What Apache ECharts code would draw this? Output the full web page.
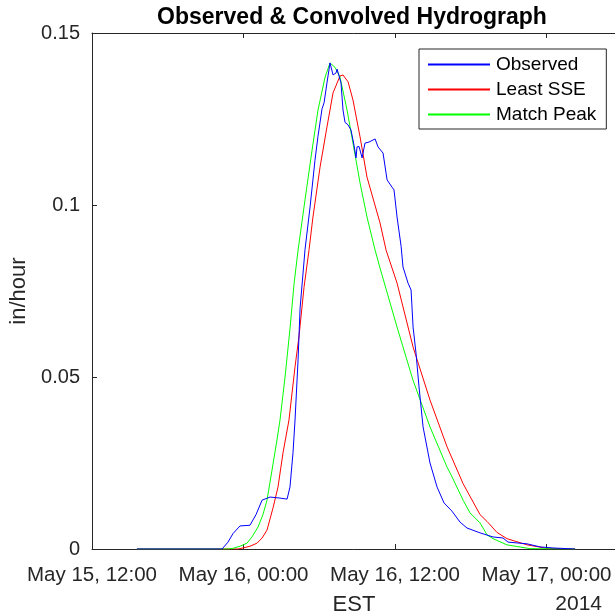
<!DOCTYPE html>
<html>
<head>
<meta charset="utf-8">
<script src="https://cdn.jsdelivr.net/npm/echarts@6/dist/echarts.min.js"></script>
<style>html,body{margin:0;padding:0;background:#fff}#c{width:615px;height:616px}</style>
</head>
<body>
<div id="c"></div>
<script>
// Hours since May 15, 2014 00:00 EST
const obsHours = [15.56,22.30,22.77,23.17,23.72,24.51,24.99,25.47,26.10,26.89,27.45,27.68,27.92,28.08,28.32,28.48,28.87,29.27,29.66,29.90,30.22,30.38,30.61,30.85,31.09,31.33,31.41,31.56,31.72,31.88,32.04,32.28,32.51,32.75,32.91,32.99,33.15,33.39,33.62,33.94,34.42,34.65,35.05,35.37,35.76,35.92,36.16,36.48,36.63,37.03,37.27,37.43,37.66,37.90,38.22,38.77,39.33,39.88,40.51,41.15,41.70,42.73,43.76,44.55,44.95,46.46,47.49,48.51,50.26];
const obsValues = [0,0,0.002,0.0045,0.0067,0.0069,0.010,0.0142,0.0151,0.0148,0.0145,0.018,0.028,0.0375,0.055,0.070,0.087,0.0994,0.113,0.120,0.128,0.1297,0.1355,0.1413,0.1378,0.1384,0.1395,0.1392,0.1355,0.1276,0.124,0.1233,0.1218,0.1174,0.1137,0.1169,0.117,0.1137,0.118,0.1183,0.1192,0.1169,0.1151,0.1073,0.1052,0.1044,0.0965,0.088,0.082,0.0773,0.0753,0.0645,0.057,0.0471,0.0355,0.025,0.018,0.0134,0.011,0.0078,0.0061,0.0047,0.0035,0.0032,0.002,0.0015,0.0006,0.0003,0];

const sseHours = [15.56,23.56,23.96,24.51,25.07,25.47,25.86,26.34,26.73,27.13,27.60,28.08,28.40,28.79,29.19,29.50,30.06,30.61,31.09,31.64,31.88,32.28,32.67,33.23,33.78,34.81,35.29,36.16,37.43,38.77,40.12,41.39,42.73,43.29,44.08,44.87,46.46,48.04,50.26];
const sseValues = [0,0,0.0003,0.0008,0.0017,0.0032,0.0055,0.012,0.018,0.028,0.0375,0.053,0.062,0.076,0.087,0.0965,0.111,0.1227,0.1326,0.1375,0.1378,0.1358,0.1305,0.1198,0.1081,0.0948,0.0869,0.0773,0.0587,0.0433,0.0297,0.019,0.010,0.008,0.0048,0.003,0.0012,0.0002,0];

const peakHours = [15.56,22.77,23.17,23.72,24.28,24.67,25.15,25.54,25.86,26.26,26.65,26.89,27.29,27.68,28.00,28.32,28.87,29.43,29.90,30.46,30.85,31.25,31.64,32.20,32.67,33.23,33.78,34.42,34.81,36.16,37.43,38.77,40.12,40.51,41.39,41.94,42.73,43.29,43.76,44.87,46.69,50.26];
const peakValues = [0,0,0.0002,0.0008,0.0017,0.0035,0.0064,0.010,0.0142,0.023,0.0317,0.0375,0.050,0.064,0.077,0.0869,0.1015,0.116,0.1276,0.1372,0.1413,0.140,0.1372,0.1276,0.118,0.1064,0.0965,0.0869,0.0817,0.0645,0.049,0.0355,0.0238,0.021,0.0142,0.0105,0.0076,0.0041,0.003,0.0012,0.0001,0];

const xTickHours = [12,24,36,48];
const xTickLabels = ['May 15, 12:00','May 16, 00:00','May 16, 12:00','May 17, 00:00'];
const seriesNames = ['Observed','Least SSE','Match Peak'];

function pairs(xs, ys){ return xs.map((x,i)=>[x, ys[i]]); }
const txt = '#262626';
const font = 'Liberation Sans, Arial, Helvetica, sans-serif';

const chart = echarts.init(document.getElementById('c'), null, {renderer:'canvas'});
chart.setOption({
  animation:false,
  backgroundColor:'#fff',
  title:{text:'Observed & Convolved Hydrograph', left:352, textAlign:'center', top:6, padding:0,
    textStyle:{fontFamily:font, fontSize:23, fontWeight:'bold', color:'#000'}},
  grid:{left:92, right:-1, top:33, bottom:67, show:false, containLabel:false, outerBoundsMode:'none'},
  legend:{
    orient:'vertical', left:419, top:49, width:185, itemWidth:62, itemHeight:14, itemGap:6,
    padding:[6,10,5,8], borderColor:txt, borderWidth:1, backgroundColor:'#fff',
    itemStyle:{opacity:0},
    textStyle:{fontFamily:font, fontSize:19, color:'#000', padding:[0,0,0,1]},
    data:seriesNames
  },
  xAxis:[{
    type:'value', min:12, max:53.5, interval:12,
    name:'EST', nameLocation:'middle', nameGap:45,
    nameTextStyle:{fontFamily:font, fontSize:22, color:txt},
    axisLine:{lineStyle:{color:txt, width:1}},
    axisTick:{inside:true, length:5, lineStyle:{color:txt}},
    splitLine:{show:false},
    axisLabel:{fontFamily:font, fontSize:20.5, color:txt, margin:16,
      formatter:function(v){ const i = xTickHours.indexOf(Math.round(v*100)/100); return i>=0 ? xTickLabels[i] : ''; }}
  },{
    type:'value', position:'top', min:12, max:53.5, interval:12,
    axisLine:{show:true, lineStyle:{color:txt, width:1}},
    axisTick:{show:true, inside:true, length:5, lineStyle:{color:txt}},
    axisLabel:{show:false}, splitLine:{show:false}
  }],
  yAxis:{
    type:'value', min:0, max:0.15, interval:0.05,
    name:'in/hour', nameLocation:'middle', nameGap:62,
    nameTextStyle:{fontFamily:font, fontSize:22, color:txt},
    axisLine:{show:true, lineStyle:{color:txt, width:1}},
    axisTick:{show:true, inside:true, length:5, lineStyle:{color:txt}},
    splitLine:{show:false},
    axisLabel:{fontFamily:font, fontSize:20, color:txt, margin:12,
      formatter:function(v){ return String(Math.round(v*100)/100); }}
  },
  graphic:[{type:'text', right:13, top:594, style:{text:'2014', fontFamily:font, fontSize:21, fill:txt}}],
  series:[
    {name:seriesNames[0], type:'line', data:pairs(obsHours, obsValues), symbol:'none', lineStyle:{color:'#0000ff', width:1}, itemStyle:{color:'#0000ff'}, z:3},
    {name:seriesNames[1], type:'line', data:pairs(sseHours, sseValues), symbol:'none', lineStyle:{color:'#ff0000', width:1}, itemStyle:{color:'#ff0000'}, z:2},
    {name:seriesNames[2], type:'line', data:pairs(peakHours, peakValues), symbol:'none', lineStyle:{color:'#00ff00', width:1}, itemStyle:{color:'#00ff00'}, z:2}
  ]
});
</script>
</body>
</html>
